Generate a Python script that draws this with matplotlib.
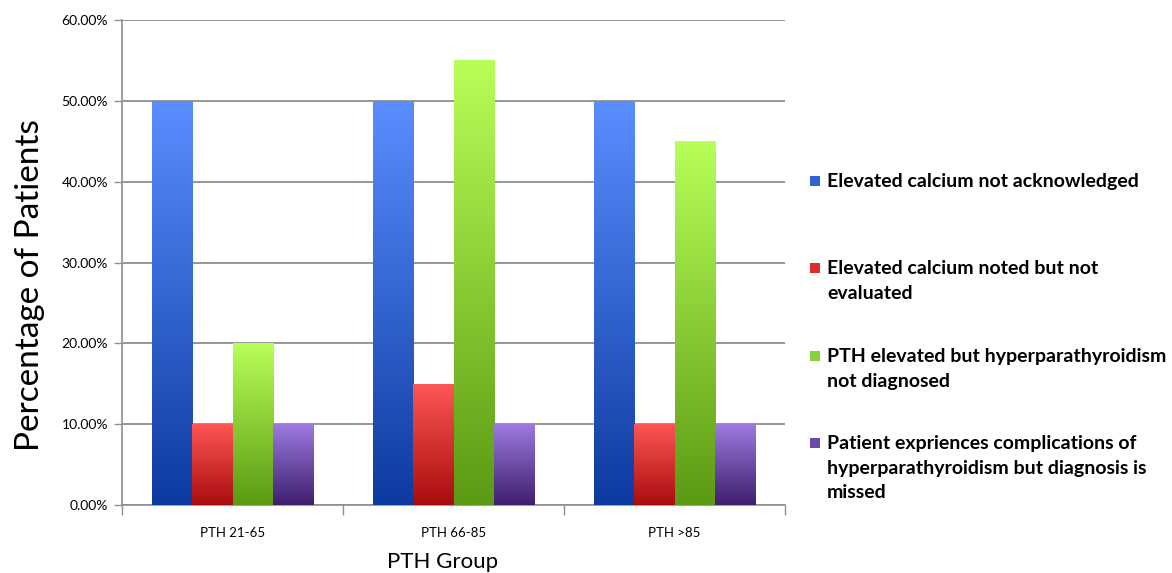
import numpy as np
import matplotlib.pyplot as plt
from matplotlib.colors import LinearSegmentedColormap
from matplotlib.ticker import PercentFormatter, FixedLocator
from matplotlib.patches import Rectangle

plt.rcParams['font.family'] = ['Lato', 'DejaVu Sans']

# data (percent of patients)
groups = ['PTH 21-65', 'PTH 66-85', 'PTH >85']
labels = ['Elevated calcium not acknowledged',
          'Elevated calcium noted but not\nevaluated',
          'PTH elevated but hyperparathyroidism\nnot diagnosed',
          'Patient expriences complications of\nhyperparathyroidism but diagnosis is\nmissed']
not_acknowledged = [50, 50, 50]
noted_not_evaluated = [10, 15, 10]
pth_not_diagnosed = [20, 55, 45]
complications_missed = [10, 10, 10]
values = [not_acknowledged, noted_not_evaluated, pth_not_diagnosed, complications_missed]

# gradient colours, (top, bottom)
grads = [('#5a8eff', '#0d3a9f'),
         ('#ff5656', '#a70d0d'),
         ('#b8ff58', '#5b9a13'),
         ('#9c7ae0', '#3e1f6e')]
swatch = ['#2f62d6', '#dc2e2e', '#8ad038', '#6a4aa8']

fig = plt.figure(figsize=(11.72, 5.73), dpi=100)
ax = fig.add_axes([0.1041, 0.1187, 0.5657, 0.8463])

x = np.arange(len(groups))
w = 0.182
grad = np.linspace(0, 1, 256).reshape(-1, 1)
for i, (vals, (top, bot)) in enumerate(zip(values, grads)):
    bars = ax.bar(x + (i - 1.5) * w, vals, w, color=top, zorder=2)
    cmap = LinearSegmentedColormap.from_list('g%d' % i, [bot, top])
    for p in bars:
        x0, h = p.get_x(), p.get_height()
        im = ax.imshow(grad, extent=[x0, x0 + p.get_width(), 0, h], origin='lower',
                       aspect='auto', cmap=cmap, zorder=3)
        im.set_clip_path(p)

ax.set_xlim(-0.5, len(groups) - 0.5)
ax.set_ylim(0, 60)
ax.yaxis.set_major_locator(FixedLocator(np.arange(0, 61, 10)))
ax.yaxis.set_major_formatter(PercentFormatter(100, decimals=2))
ax.grid(axis='y', color='#8f8f8f', linewidth=1.3, zorder=0)
ax.set_axisbelow(True)

ax.set_xticks(np.arange(-0.5, len(groups)), [''] * (len(groups) + 1))
ax.set_xticks(x, groups, minor=True)
ax.tick_params(axis='x', which='major', length=7, color='#8f8f8f', width=1)
ax.tick_params(axis='x', which='minor', length=0, pad=16, labelsize=9.5)
ax.tick_params(axis='y', length=6, color='#8f8f8f', width=1, labelsize=10, pad=4)

for s in ['top', 'right']:
    ax.spines[s].set_visible(False)
for s in ['left', 'bottom']:
    ax.spines[s].set_color('#8f8f8f')
    ax.spines[s].set_linewidth(1.2)

ax.set_ylabel('Percentage of Patients', fontsize=24, va='center')
ax.yaxis.set_label_coords(-0.139, 0.454)
ax.set_xlabel('PTH Group', fontsize=16, va='center')
ax.xaxis.set_label_coords(0.484, -0.118)

# legend drawn by hand, one entry per series
ys = [181, 268, 356, 443]
for lab, col, yy in zip(labels, swatch, ys):
    fy = 1 - yy / 573
    fig.patches.append(Rectangle((810 / 1172, fy - 5 / 573), 10 / 1172, 10 / 573,
                                 transform=fig.transFigure, facecolor=col,
                                 edgecolor='none'))
    fig.text(827 / 1172, fy + 8 / 573, lab, fontsize=14, fontweight='bold',
             va='top', ha='left', linespacing=1.55)

fig.savefig('out.png', dpi=100)
